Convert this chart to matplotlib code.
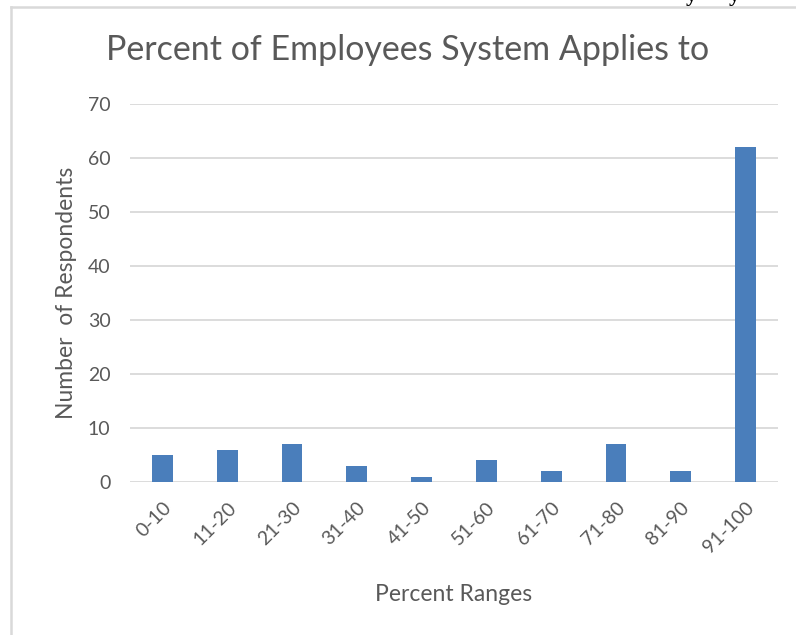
import matplotlib.pyplot as plt
from matplotlib.lines import Line2D

# ---------------------------------------------------------------------------
# Data
# ---------------------------------------------------------------------------
ranges = ['0-10', '11-20', '21-30', '31-40', '41-50',
          '51-60', '61-70', '71-80', '81-90', '91-100']
respondents = [5, 6, 7, 3, 1, 4, 2, 7, 2, 62]

# ---------------------------------------------------------------------------
# Style
# ---------------------------------------------------------------------------
W, H = 796, 635
bar_color = '#4A7EBB'
grid_color = '#D9D9D9'
text_color = '#595959'
plt.rcParams['font.family'] = ['Lato', 'DejaVu Sans']

fig = plt.figure(figsize=(W / 100, H / 100), dpi=100)
ax = fig.add_axes([130 / W, 1 - 482 / H, 648 / W, 378 / H])

x = range(len(ranges))
ax.bar(x, respondents, width=0.32, color=bar_color, edgecolor='none', zorder=3)

ax.set_xlim(-0.5, len(ranges) - 0.5)
ax.set_ylim(0, 70)
ax.set_yticks(range(0, 71, 10))
ax.yaxis.grid(True, color=grid_color, linewidth=1.3, zorder=0)
for s in ax.spines.values():
    s.set_visible(False)
ax.tick_params(length=0, colors=text_color, labelsize=14)
ax.tick_params(axis='y', pad=14)
ax.set_xticks(list(x))
ax.set_xticklabels(ranges, rotation=45, ha='right', va='top',
                   rotation_mode='anchor')
ax.tick_params(axis='x', pad=12)

ax.set_xlabel('Percent Ranges', color=text_color, fontsize=16.5, labelpad=20)
ax.set_ylabel('Number  of Respondents', color=text_color, fontsize=16.5,
              labelpad=8)
fig.text(408 / W, 1 - 50 / H, 'Percent of Employees System Applies to',
         ha='center', va='center', color=text_color, fontsize=24.5)

# chart frame (left and top edges)
fig.add_artist(Line2D([10.5 / W, 10.5 / W], [0, 1 - 6.5 / H],
                      color=grid_color, linewidth=1.8))
fig.add_artist(Line2D([10.5 / W, 1], [1 - 6.5 / H, 1 - 6.5 / H],
                      color=grid_color, linewidth=1.8))

# clipped line of body text above the chart
fig.text(686 / W, 1 - 0.5 / H, 'y', family='Liberation Serif', weight='bold',
         fontsize=16, color='black', ha='left', va='baseline')
fig.text(729 / W, 1 - 0.5 / H, 'y', family='Liberation Serif', weight='bold',
         fontsize=16, color='black', ha='left', va='baseline')

fig.savefig('out.png', dpi=100, facecolor='white')
